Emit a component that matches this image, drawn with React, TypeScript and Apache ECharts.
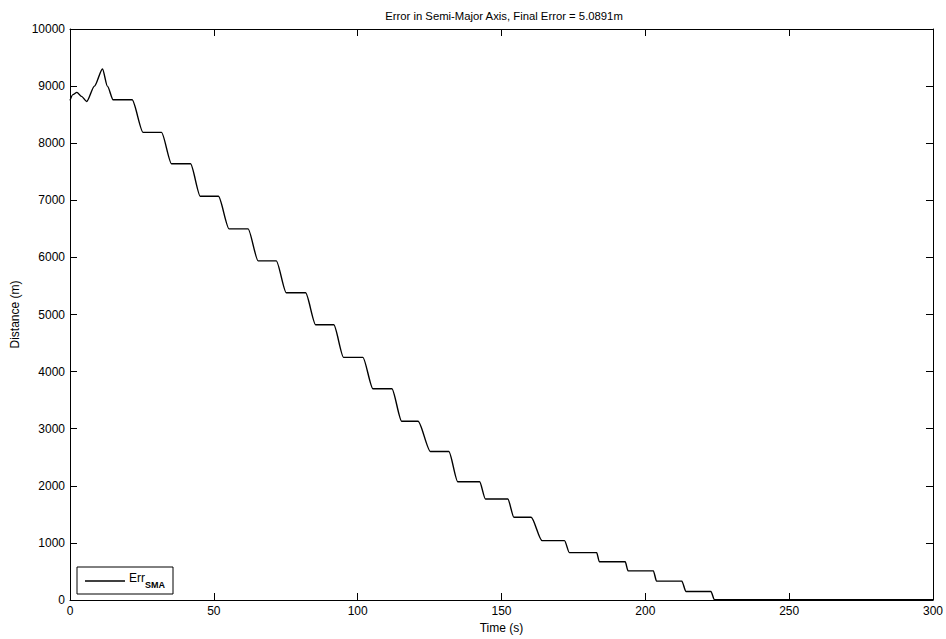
import React, { useEffect, useRef } from "react";
import * as echarts from "echarts";

const titleText = "Error in Semi-Major Axis, Final Error = 5.0891m";
const xTickStep = 50;
const yTickStep = 1000;

// corner points of the SMA error curve (time s, distance m)
const times = [
  0, 1, 2.4, 4, 5.8, 8.5, 11.3, 13, 15,
  21.6, 25.4, 31.8, 35.3, 41.9, 45.3, 51.6, 55.3, 61.9, 65.4,
  71.7, 75.2, 81.9, 85.4, 91.7, 95.1, 101.8, 105.3, 111.9, 115.3,
  121.0, 125.3, 131.7, 134.8, 142.4, 144.4, 152.2, 154.3, 160.3, 164.1,
  171.9, 173.6, 183.1, 184.0, 193.0, 194.0, 202.8, 203.9, 212.7, 214.1,
  222.8, 224.0, 300,
];
const errSMA = [
  8750, 8850, 8890, 8820, 8730, 9000, 9300, 9000, 8760,
  8760, 8190, 8190, 7640, 7640, 7070, 7070, 6500, 6500, 5940,
  5940, 5380, 5380, 4820, 4820, 4250, 4250, 3700, 3700, 3130,
  3130, 2600, 2600, 2070, 2070, 1770, 1770, 1450, 1450, 1040,
  1040, 830, 830, 670, 670, 510, 510, 330, 330, 150,
  150, 5, 5,
];

const font = "'Liberation Sans', Arial, Helvetica, sans-serif";

export default function App() {
  const ref = useRef<HTMLDivElement>(null);
  useEffect(() => {
    if (!ref.current) return;
    const chart = echarts.init(ref.current, null, { renderer: "svg" });
    const data = times.map((t, i) => [t, errSMA[i]]);
    const axisCommon = {
      type: "value" as const,
      axisLine: { show: true, onZero: false, lineStyle: { color: "#000", width: 1 } },
      axisTick: { show: true, inside: true, length: 7, lineStyle: { color: "#000", width: 1 } },
      splitLine: { show: false },
    };
    const plain = (v: number) => String(v);
    chart.setOption({
      animation: false,
      backgroundColor: "#fff",
      textStyle: { fontFamily: font },
      title: {
        text: titleText,
        left: 499,
        top: 5,
        textAlign: "center",
        textStyle: { fontSize: 11.3, fontWeight: "normal", color: "#000", fontFamily: font },
      },
      grid: { left: 70, right: 12, top: 29, bottom: 38, containLabel: false },
      xAxis: [
        {
          ...axisCommon,
          position: "bottom",
          min: 0,
          max: 300,
          interval: xTickStep,
          name: "Time (s)",
          nameLocation: "middle",
          nameGap: 22,
          nameTextStyle: { fontSize: 12, color: "#000", fontFamily: font },
          axisLabel: { margin: 5, fontSize: 12, color: "#000", fontFamily: font, formatter: plain },
        },
        {
          ...axisCommon,
          position: "top",
          min: 0,
          max: 300,
          interval: xTickStep,
          axisLabel: { show: false },
        },
      ],
      yAxis: [
        {
          ...axisCommon,
          position: "left",
          min: 0,
          max: 10000,
          interval: yTickStep,
          name: "Distance (m)",
          nameLocation: "middle",
          nameGap: 47,
          nameTextStyle: { fontSize: 12, color: "#000", fontFamily: font },
          axisLabel: { margin: 5, fontSize: 12, color: "#000", fontFamily: font, formatter: plain },
        },
        {
          ...axisCommon,
          position: "right",
          min: 0,
          max: 10000,
          interval: yTickStep,
          axisLabel: { show: false },
        },
      ],
      series: [
        {
          type: "line",
          name: "Err_SMA",
          data,
          showSymbol: false,
          smooth: 0.25,
          smoothMonotone: "x",
          lineStyle: { color: "#000", width: 1.4 },
          xAxisIndex: 0,
          yAxisIndex: 0,
        },
      ],
      graphic: [
        {
          type: "rect",
          shape: { x: 77, y: 567, width: 96, height: 27 },
          style: { fill: "#fff", stroke: "#000", lineWidth: 1 },
          z: 100,
        },
        {
          type: "line",
          shape: { x1: 85, y1: 581, x2: 125, y2: 581 },
          style: { stroke: "#000", lineWidth: 1.4 },
          z: 101,
        },
        {
          type: "text",
          x: 129,
          y: 578,
          style: { text: "Err", fontSize: 12, fill: "#000", fontFamily: font, verticalAlign: "middle" },
          z: 101,
        },
        {
          type: "text",
          x: 145,
          y: 585,
          style: { text: "SMA", fontSize: 9, fontWeight: "bold", fill: "#000", fontFamily: font, verticalAlign: "middle" },
          z: 101,
        },
      ],
    });
    return () => chart.dispose();
  }, []);
  return (
    <div
      ref={ref}
      style={{ position: "fixed", left: 0, top: 0, width: 946, height: 639, background: "#fff" }}
    />
  );
}
